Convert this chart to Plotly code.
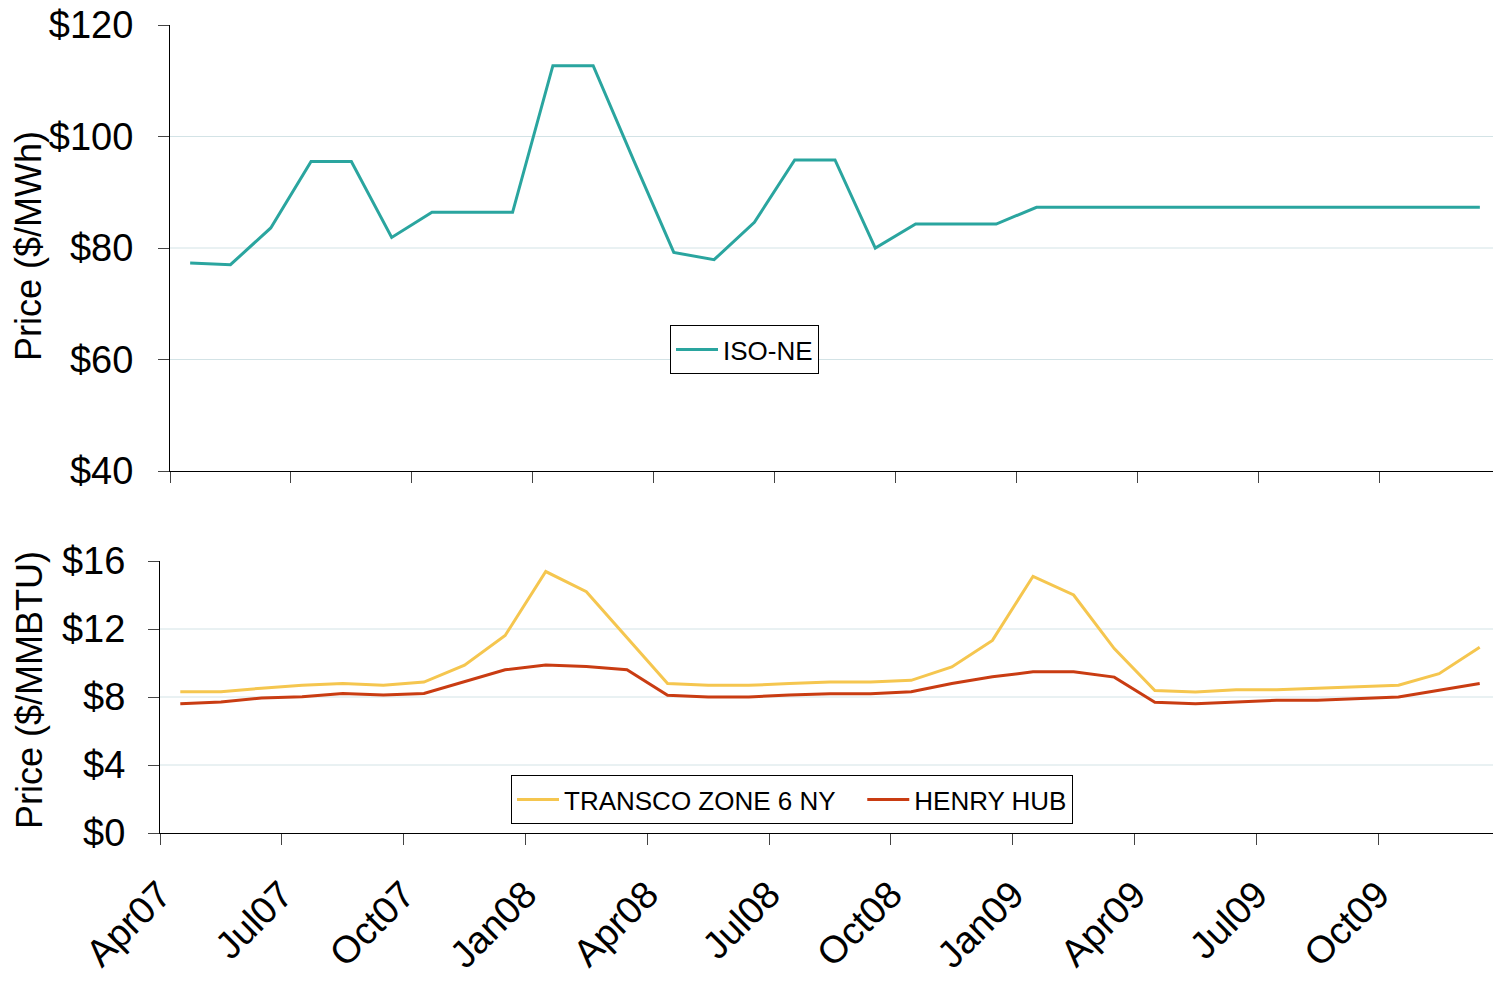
import plotly.graph_objects as go

months = ["Apr07","May07","Jun07","Jul07","Aug07","Sep07","Oct07","Nov07","Dec07",
          "Jan08","Feb08","Mar08","Apr08","May08","Jun08","Jul08","Aug08","Sep08",
          "Oct08","Nov08","Dec08","Jan09","Feb09","Mar09","Apr09","May09","Jun09",
          "Jul09","Aug09","Sep09","Oct09","Nov09","Dec09"]

iso_ne = [77.3, 77.0, 83.6, 95.5, 95.5, 81.9, 86.4, 86.4, 86.4,
          112.7, 112.7, 95.8, 79.2, 77.9, 84.6, 95.8, 95.8, 80.0,
          84.3, 84.3, 84.3, 87.3, 87.3, 87.3, 87.3, 87.3, 87.3,
          87.3, 87.3, 87.3, 87.3, 87.3, 87.3]

transco = [8.31, 8.31, 8.52, 8.69, 8.79, 8.69, 8.88, 9.87, 11.62,
           15.38, 14.19, 11.5, 8.79, 8.69, 8.69, 8.79, 8.88, 8.88,
           8.98, 9.77, 11.33, 15.1, 14.0, 10.85, 8.38, 8.29, 8.42,
           8.42, 8.52, 8.60, 8.69, 9.37, 10.92]

henry = [7.60, 7.71, 7.94, 8.02, 8.21, 8.12, 8.21, 8.90, 9.60,
         9.88, 9.79, 9.60, 8.10, 8.00, 8.00, 8.12, 8.19, 8.19,
         8.31, 8.79, 9.19, 9.48, 9.48, 9.17, 7.69, 7.60, 7.71,
         7.81, 7.81, 7.90, 8.00, 8.40, 8.79]

tick_labels = ["Apr07","Jul07","Oct07","Jan08","Apr08","Jul08","Oct08",
               "Jan09","Apr09","Jul09","Oct09",""]
top_grid = [60, 80, 100]
bot_grid = [4, 8, 12]

x = [i + 0.5 for i in range(len(months))]
tickvals = [i * 3 for i in range(len(tick_labels))]

W, H = 1501, 981
OFF = 8  # page body margin
FONT = "Arial, Liberation Sans, sans-serif"


def px(s):
    return (s - OFF) / W


def py(s):
    return 1 - (s - OFF) / H


fig = go.Figure()
fig.add_trace(go.Scatter(x=x, y=iso_ne, mode="lines", name="ISO-NE",
                         line=dict(color="#2aa59f", width=3),
                         xaxis="x", yaxis="y", legend="legend"))
fig.add_trace(go.Scatter(x=x, y=transco, mode="lines",
                         name="TRANSCO ZONE 6 NY\u00a0\u00a0\u00a0",
                         line=dict(color="#f5c64f", width=3),
                         xaxis="x2", yaxis="y2", legend="legend2"))
fig.add_trace(go.Scatter(x=x, y=henry, mode="lines", name="HENRY HUB",
                         line=dict(color="#c93c12", width=3),
                         xaxis="x2", yaxis="y2", legend="legend2"))

shapes = []
for g in top_grid:
    shapes.append(dict(type="line", xref="x domain", yref="y", x0=0, x1=1, y0=g, y1=g,
                       line=dict(color="#d3e3e6", width=1), layer="below"))
for g in bot_grid:
    shapes.append(dict(type="line", xref="x2 domain", yref="y2", x0=0, x1=1, y0=g, y1=g,
                       line=dict(color="#d3e3e6", width=1), layer="below"))

axis_common = dict(showline=True, linecolor="black", linewidth=1,
                   ticks="outside", tickcolor="#444", ticklen=11, tickwidth=1,
                   showgrid=False, zeroline=False, automargin=False,
                   ticklabeloverflow="allow",
                   tickfont=dict(family=FONT, size=38, color="black"))

fig.update_layout(
    width=W, height=H,
    margin=dict(l=0, r=0, t=0, b=0, autoexpand=False),
    paper_bgcolor="white", plot_bgcolor="white",
    showlegend=True,
    font=dict(family=FONT, color="black"),
    xaxis=dict(domain=[px(170), px(1500)], range=[0, 33], tickvals=tickvals,
               showticklabels=False, anchor="y", **axis_common),
    yaxis=dict(domain=[py(471), py(25)], range=[40, 120],
               tickvals=[40, 60, 80, 100, 120], ticktext=["$40", "$60", "$80", "$100", "$120"],
               anchor="x", ticklabelstandoff=17, **axis_common),
    xaxis2=dict(domain=[px(160), px(1500)], range=[0, 33], tickvals=tickvals,
                ticktext=tick_labels, tickangle=-45, anchor="y2",
                ticklabelstandoff=12, **axis_common),
    yaxis2=dict(domain=[py(833), py(561)], range=[0, 16],
                tickvals=[0, 4, 8, 12, 16], ticktext=["$0", "$4", "$8", "$12", "$16"],
                anchor="x2", ticklabelstandoff=15, **axis_common),
    shapes=shapes,
    legend=dict(x=px(670), y=py(325), xanchor="left", yanchor="top",
                bgcolor="white", bordercolor="black", borderwidth=1, itemwidth=42,
                font=dict(family=FONT, size=26, color="black")),
    legend2=dict(x=px(511), y=py(775), xanchor="left", yanchor="top",
                 orientation="h", itemwidth=42,
                 bgcolor="white", bordercolor="black", borderwidth=1,
                 font=dict(family=FONT, size=26, color="black")),
    annotations=[
        dict(text="Price ($/MWh)", textangle=-90, xref="paper", yref="paper",
             x=px(29), y=py(246), xanchor="center", yanchor="middle",
             showarrow=False, font=dict(family=FONT, size=36, color="black")),
        dict(text="Price ($/MMBTU)", textangle=-90, xref="paper", yref="paper",
             x=px(29), y=py(690), xanchor="center", yanchor="middle",
             showarrow=False, font=dict(family=FONT, size=36, color="black")),
    ],
)

fig.write_html("out.html")
